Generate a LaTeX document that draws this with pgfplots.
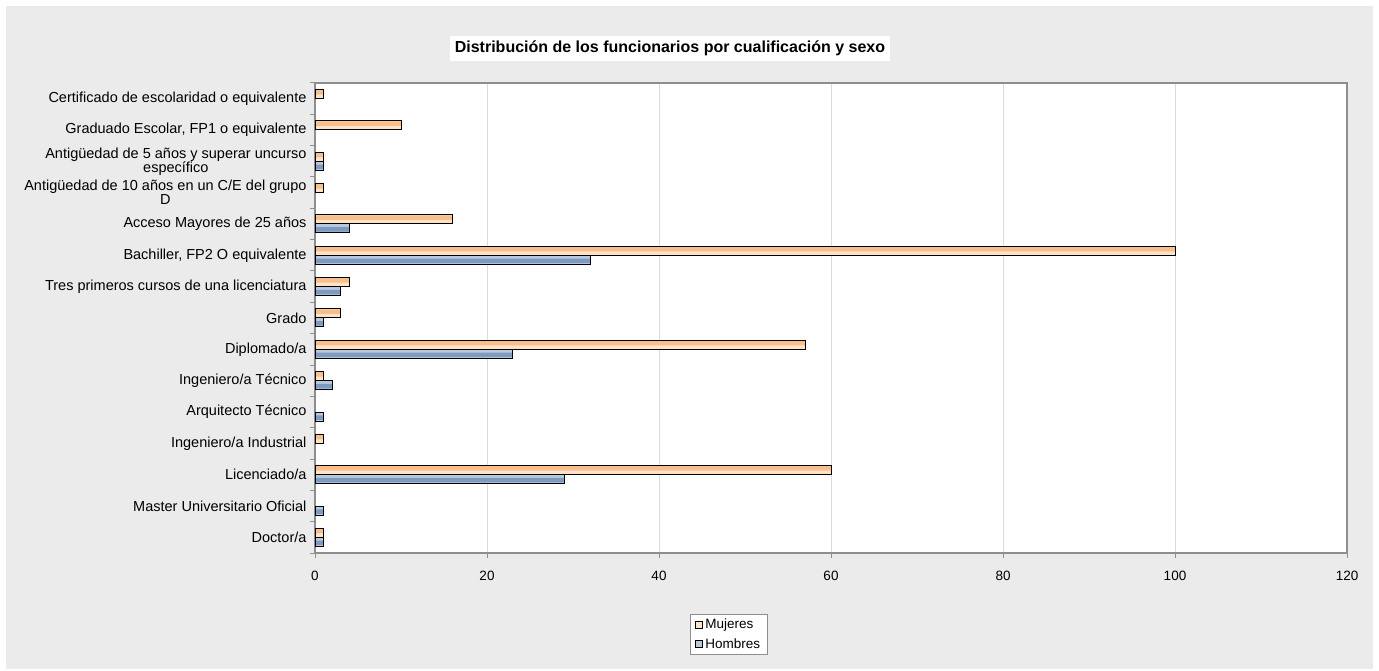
\documentclass[border=0pt]{standalone}
\usepackage{pgfplots}
\pgfplotsset{compat=1.18}
\usepackage{fontspec}
\setmainfont{Liberation Sans}
\definecolor{bgc}{HTML}{EBEBEB}
\definecolor{axc}{HTML}{8E8E8E}
\definecolor{gridc}{HTML}{DCDCDC}
\definecolor{mujA}{HTML}{F8BF8C}
\definecolor{mujB}{HTML}{FFE2C8}
\definecolor{homA}{HTML}{7F9AC0}
\definecolor{homB}{HTML}{B9C9DD}
\pgfplotstableread{
y m
14 1
13 10
12 1
11 1
10 16
9 100
8 4
7 3
6 57
5 1
3 1
2 60
0 1
}\mujeres
\pgfplotstableread{
y h
12 1
10 4
9 32
8 3
7 1
6 23
5 2
4 1
2 29
1 1
0 1
}\hombres
\begin{document}
\begin{tikzpicture}[x=1pt,y=1pt]
\fill[white] (0,0) rectangle (1379,670);
\fill[bgc] (6,1) rectangle (1373,664);
\node[fill=white, inner xsep=5pt, inner ysep=5pt, font=\fontsize{16}{18}\selectfont\bfseries] at (670,621.5) {Distribución de los funcionarios por cualificación y sexo};
\begin{axis}[
  at={(315pt,117pt)}, anchor=south west,
  scale only axis, width=1032pt, height=470pt,
  xmin=0, xmax=120, ymin=-0.5, ymax=14.5,
  xtick={0,20,...,120},
  ytick={0,...,14},
  yticklabels={{Doctor/a},{Master Universitario Oficial},{Licenciado/a},{Ingeniero/a Industrial},{Arquitecto Técnico},{Ingeniero/a Técnico},{Diplomado/a},{Grado},{Tres primeros cursos de una licenciatura},{Bachiller, FP2 O equivalente},{Acceso Mayores de 25 años},{Antigüedad de 10 años en un C/E del grupo\\D},{Antigüedad de 5 años  y superar uncurso\\específico},{Graduado Escolar, FP1 o equivalente},{Certificado de escolaridad o equivalente}},
  minor ytick={-0.5,0.5,...,14.5},
  xtick pos=bottom, ytick pos=left,
  tick align=outside,
  major tick length=5pt, minor tick length=5pt,
  tick style={axc, line width=1pt},
  major y tick style={draw=none},
  axis line style={axc, line width=1.5pt},
  xmajorgrids, grid style={gridc, line width=1pt},
  axis background/.style={fill=white},
  /pgf/number format/assume math mode=true,
  xticklabel style={font=\fontsize{13.5}{15}\selectfont, yshift=-10pt},
  yticklabel style={font=\fontsize{14.5}{14}\selectfont, align=center},
  xbar,
  legend style={at={(0.401,-0.173)}, anchor=center, draw=axc, fill=white, font=\fontsize{13.5}{15}\selectfont, row sep=4pt, inner xsep=5pt, inner ysep=3pt},
  legend cell align=left,
  legend image code/.code={\draw[#1, draw=black, line width=1pt] (0pt,-3.5pt) rectangle (7pt,3.5pt);},
]
% Mujeres: fill, colour band, outline
\addplot[bar width=9pt, bar shift=4.5pt, draw=none, fill=mujB] table[x=m, y=y] {\mujeres};
\addlegendentry{Mujeres}
\addplot[forget plot, bar width=4.5pt, bar shift=6.25pt, draw=none, fill=mujA] table[x=m, y=y] {\mujeres};
\addplot[forget plot, bar width=9pt, bar shift=4.5pt, draw=black, line width=1pt, fill=none] table[x=m, y=y] {\mujeres};
% Hombres
\addplot[bar width=9pt, bar shift=-4.5pt, draw=none, fill=homB] table[x=h, y=y] {\hombres};
\addlegendentry{Hombres}
\addplot[forget plot, bar width=4.5pt, bar shift=-5.5pt, draw=none, fill=homA] table[x=h, y=y] {\hombres};
\addplot[forget plot, bar width=9pt, bar shift=-4.5pt, draw=black, line width=1pt, fill=none] table[x=h, y=y] {\hombres};
\end{axis}
\end{tikzpicture}
\end{document}
